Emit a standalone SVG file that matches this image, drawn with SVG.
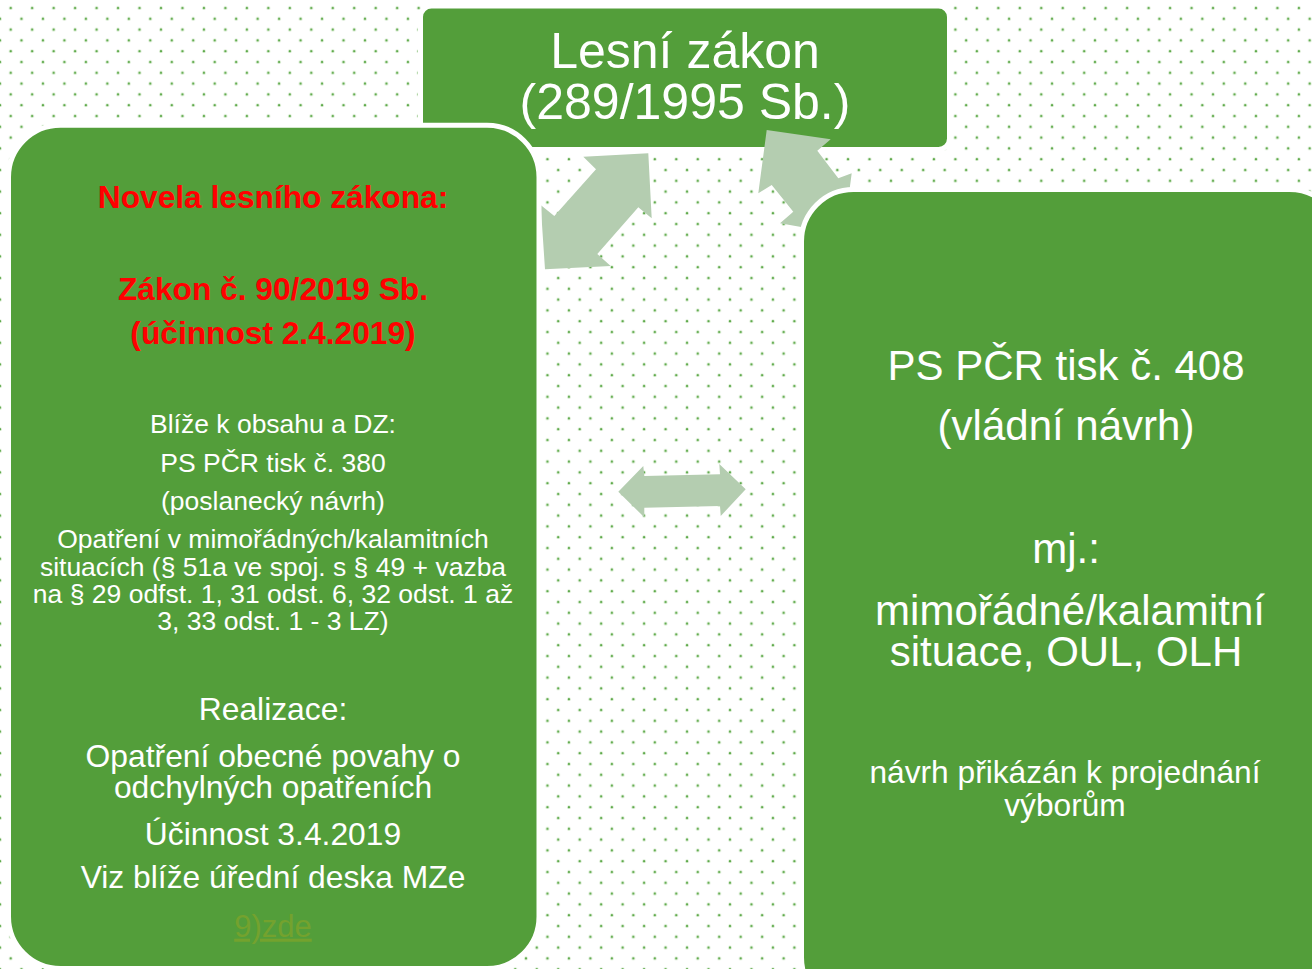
<svg xmlns="http://www.w3.org/2000/svg" width="1312" height="969" viewBox="0 0 1312 969">
  <defs>
    <pattern id="dots" patternUnits="userSpaceOnUse" x="0" y="0" width="21.47" height="21.6">
      <circle cx="10.7" cy="8" r="1.8" fill="#d6eace"/>
      <circle cx="10.7" cy="8" r="1.1" fill="#5aa847"/>
      <circle cx="0" cy="18.8" r="1.8" fill="#d6eace"/>
      <circle cx="0" cy="18.8" r="1.1" fill="#5aa847"/>
      <circle cx="21.47" cy="18.8" r="1.8" fill="#d6eace"/>
      <circle cx="21.47" cy="18.8" r="1.1" fill="#5aa847"/>
    </pattern>
    <style>
      .box { fill: #539e3a; stroke: #ffffff; stroke-width: 5; }
      .conn { fill: #b4cdb0; stroke: none; }
      .t { font-family: "Liberation Sans", Arial, sans-serif; fill: #ffffff; text-anchor: middle; }
      .red { font-family: "Liberation Sans", Arial, sans-serif; fill: #ff0000; font-weight: bold; text-anchor: middle; font-size: 31.7px; }
      .link { font-family: "Liberation Sans", Arial, sans-serif; fill: #74a22e; text-anchor: middle; font-size: 31px; text-decoration: underline; }
    </style>
  </defs>
  <rect x="0" y="0" width="1312" height="969" fill="#ffffff"/>
  <rect x="0" y="0" width="1312" height="969" fill="url(#dots)"/>

  <g id="node-lesni-zakon">
    <rect class="box" x="420.5" y="6" width="529" height="143.5" rx="11"/>
    <text class="t" font-size="50" x="685" y="68">Lesní zákon</text>
    <text class="t" font-size="50" x="685" y="119">(289/1995 Sb.)</text>
  </g>

  <g id="connectors">
    <polygon class="conn" points="648.3,153.3 651.7,218.3 638.3,207.3 597.3,254 610.7,266 545,269.3 540.7,205 554.3,216 596,169.3 583.3,156.7"/>
    <polygon class="conn" points="766.7,130 830.7,139.3 817.3,150.7 838.3,178.3 851.7,173.3 843.6,234.6 780,223.3 793.3,211.7 771.7,185 758.3,193.3"/>
    <polygon class="conn" points="618.3,491.7 643.3,466 644.3,476 720,474.3 719.3,464 745.7,489.3 720.7,516 720,506 644.3,507.7 644.3,517.3"/>
  </g>

  <g id="node-novela">
    <rect class="box" x="8.5" y="125.2" width="530.5" height="843.3" rx="52"/>
    <text class="red" x="273" y="207.7">Novela lesního zákona:</text>
    <text class="red" x="273" y="300">Zákon č. 90/2019 Sb.</text>
    <text class="red" x="273" y="344">(účinnost 2.4.2019)</text>
    <g class="t" font-size="26.5">
      <text x="273" y="432.7">Blíže k obsahu a DZ:</text>
      <text x="273" y="471.7">PS PČR tisk č. 380</text>
      <text x="273" y="510">(poslanecký návrh)</text>
      <text x="273" y="548.3">Opatření v mimořádných/kalamitních</text>
      <text x="273" y="575.5">situacích (§ 51a ve spoj. s § 49 + vazba</text>
      <text x="273" y="602.7">na § 29 odfst. 1, 31 odst. 6, 32 odst. 1 až</text>
      <text x="273" y="630">3, 33 odst. 1 - 3 LZ)</text>
    </g>
    <g class="t" font-size="31.8">
      <text x="273" y="720">Realizace:</text>
      <text x="273" y="767.3">Opatření obecné povahy o</text>
      <text x="273" y="798.3">odchylných opatřeních</text>
      <text x="273" y="845">Účinnost 3.4.2019</text>
      <text x="273" y="888.3">Viz blíže úřední deska MZe</text>
    </g>
    <text class="link" x="273" y="936.7">9)zde</text>
  </g>

  <g id="node-tisk-408">
    <rect class="box" x="801.5" y="189.5" width="540" height="820" rx="52"/>
    <g class="t" font-size="42">
      <text x="1066" y="380">PS PČR tisk č. 408</text>
      <text x="1066" y="440">(vládní návrh)</text>
      <text x="1066" y="563.3">mj.:</text>
      <text x="1070" y="625">mimořádné/kalamitní</text>
      <text x="1066" y="666">situace, OUL, OLH</text>
    </g>
    <g class="t" font-size="31.7">
      <text x="1065" y="782.7">návrh přikázán k projednání</text>
      <text x="1065" y="816">výborům</text>
    </g>
  </g>
</svg>
